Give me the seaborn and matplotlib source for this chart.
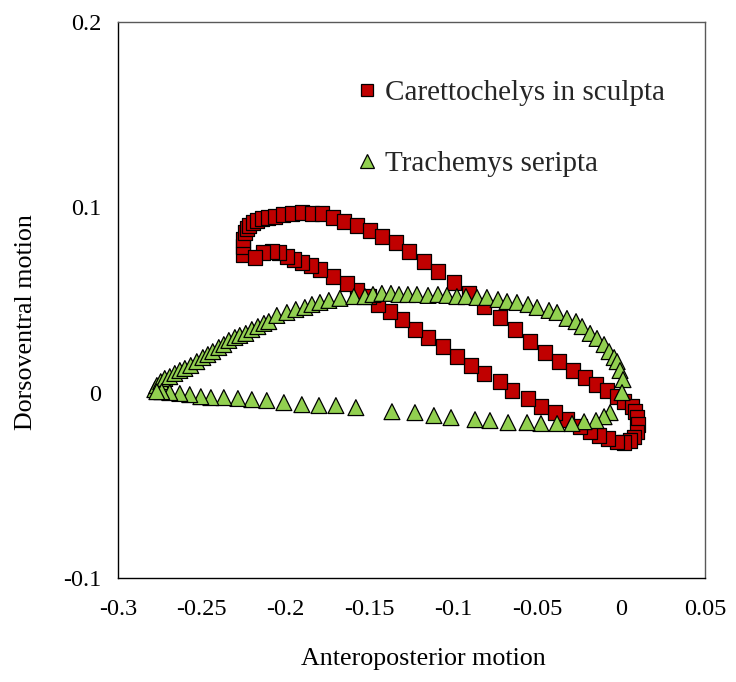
import matplotlib
matplotlib.use("Agg")
import matplotlib.pyplot as plt
import seaborn as sns
import pandas as pd

# Carettochelys in sculpta (red squares)
caretto_x = [-0.2255, -0.2255, -0.2255, -0.2243, -0.2231, -0.2219, -0.2195, -0.2171, -0.2141, -0.2106,
             -0.2064, -0.2016, -0.1962, -0.1903, -0.1843, -0.1784, -0.1718, -0.1652, -0.1575, -0.1497,
             -0.1426, -0.1342, -0.1265, -0.1175, -0.1092, -0.0996, -0.0907, -0.0818, -0.0722, -0.0633,
             -0.0543, -0.0454, -0.0370, -0.0287, -0.0215, -0.0150, -0.0084, -0.0024, 0.0017, 0.0065,
             0.0083, 0.0095, 0.0101, 0.0095, 0.0077, 0.0053, 0.0017, -0.0024, -0.0078, -0.0132,
             -0.0185, -0.0245, -0.0323, -0.0394, -0.0478, -0.0555, -0.0651, -0.0722, -0.0818, -0.0895,
             -0.0979, -0.1062, -0.1151, -0.1229, -0.1307, -0.1378, -0.1450, -0.1503, -0.1575, -0.1634,
             -0.1718, -0.1795, -0.1849, -0.1903, -0.1951, -0.1992, -0.2040, -0.2082, -0.2135, -0.2183]
caretto_y = [0.0745, 0.0788, 0.0826, 0.0864, 0.0886, 0.0902, 0.0918, 0.0929, 0.0940, 0.0945,
             0.0950, 0.0961, 0.0967, 0.0972, 0.0967, 0.0967, 0.0945, 0.0923, 0.0902, 0.0875,
             0.0842, 0.0810, 0.0761, 0.0707, 0.0653, 0.0594, 0.0535, 0.0464, 0.0405, 0.0340,
             0.0275, 0.0216, 0.0167, 0.0119, 0.0081, 0.0043, 0.0011, -0.0022, -0.0049, -0.0076,
             -0.0103, -0.0135, -0.0173, -0.0211, -0.0238, -0.0259, -0.0270, -0.0265, -0.0248, -0.0232,
             -0.0211, -0.0184, -0.0146, -0.0108, -0.0076, -0.0032, 0.0011, 0.0059, 0.0103, 0.0146,
             0.0194, 0.0248, 0.0297, 0.0340, 0.0394, 0.0437, 0.0475, 0.0518, 0.0551, 0.0589,
             0.0626, 0.0664, 0.0686, 0.0702, 0.0718, 0.0734, 0.0756, 0.0761, 0.0756, 0.0729]

# Trachemys seripta (green triangles)
trach_x = [-0.2779, -0.2767, -0.2744, -0.2720, -0.2690, -0.2660, -0.2630, -0.2600, -0.2565, -0.2529,
           -0.2493, -0.2463, -0.2434, -0.2398, -0.2368, -0.2338, -0.2302, -0.2273, -0.2237, -0.2201,
           -0.2165, -0.2129, -0.2100, -0.2052, -0.1992, -0.1939, -0.1885, -0.1843, -0.1795, -0.1742,
           -0.1676, -0.1593, -0.1527, -0.1479, -0.1426, -0.1372, -0.1324, -0.1271, -0.1217, -0.1151,
           -0.1092, -0.1038, -0.0979, -0.0925, -0.0859, -0.0800, -0.0734, -0.0680, -0.0621, -0.0555,
           -0.0501, -0.0430, -0.0382, -0.0323, -0.0269, -0.0233, -0.0185, -0.0144, -0.0102, -0.0072,
           -0.0042, -0.0024, -0.0007, 0.0011, 0.0005, -0.0066, -0.0102, -0.0150, -0.0221, -0.0293,
           -0.0382, -0.0478, -0.0561, -0.0674, -0.0782, -0.0871, -0.1014, -0.1116, -0.1229, -0.1366,
           -0.1581, -0.1700, -0.1801, -0.1903, -0.2010, -0.2112, -0.2201, -0.2284, -0.2368, -0.2445,
           -0.2505, -0.2571, -0.2630, -0.2690, -0.2738, -0.2767]
trach_y = [0.0016, 0.0038, 0.0059, 0.0076, 0.0086, 0.0103, 0.0119, 0.0130, 0.0146, 0.0167,
           0.0189, 0.0205, 0.0221, 0.0243, 0.0259, 0.0281, 0.0297, 0.0308, 0.0319, 0.0340,
           0.0356, 0.0373, 0.0383, 0.0416, 0.0432, 0.0448, 0.0459, 0.0475, 0.0486, 0.0497,
           0.0508, 0.0518, 0.0518, 0.0529, 0.0535, 0.0535, 0.0529, 0.0529, 0.0529, 0.0524,
           0.0529, 0.0524, 0.0518, 0.0518, 0.0513, 0.0513, 0.0502, 0.0491, 0.0486, 0.0475,
           0.0459, 0.0443, 0.0432, 0.0400, 0.0383, 0.0356, 0.0319, 0.0292, 0.0259, 0.0221,
           0.0189, 0.0167, 0.0119, 0.0070, 0.0000, -0.0108, -0.0130, -0.0151, -0.0157, -0.0167,
           -0.0167, -0.0167, -0.0162, -0.0162, -0.0151, -0.0146, -0.0135, -0.0124, -0.0108, -0.0103,
           -0.0081, -0.0070, -0.0070, -0.0065, -0.0054, -0.0043, -0.0038, -0.0032, -0.0027, -0.0027,
           -0.0022, -0.0011, -0.0005, 0.0000, 0.0005, 0.0005]

species = ["Carettochelys in sculpta", "Trachemys seripta"]
x_ticks = [-0.3, -0.25, -0.2, -0.15, -0.1, -0.05, 0.0, 0.05]
x_tick_labels = ["-0.3", "-0.25", "-0.2", "-0.15", "-0.1", "-0.05", "0", "0.05"]
y_ticks = [-0.1, 0.0, 0.1, 0.2]
y_tick_labels = ["-0.1", "0", "0.1", "0.2"]

df = pd.concat([
    pd.DataFrame({"ap": caretto_x, "dv": caretto_y, "species": species[0]}),
    pd.DataFrame({"ap": trach_x, "dv": trach_y, "species": species[1]}),
], ignore_index=True)

sns.set_style("white")
plt.rcParams["font.family"] = ["Liberation Serif", "DejaVu Serif"]
tick_fs = 17.5
label_fs = 18.7
legend_fs = 21

fig = plt.figure(figsize=(7.36, 6.82), dpi=100)
ax = fig.add_axes([0.160, 0.1525, 0.798, 0.8155])

sns.scatterplot(
    data=df, x="ap", y="dv", hue="species", style="species", size="species",
    palette={species[0]: "#C00000", species[1]: "#92D050"},
    markers={species[0]: "s", species[1]: "^"},
    sizes={species[0]: 108, species[1]: 130},
    edgecolor="black", linewidth=0.9, ax=ax,
)

ax.set_xlim(-0.3, 0.05)
ax.set_ylim(-0.1, 0.2)
ax.set_xticks(x_ticks)
ax.set_xticklabels(x_tick_labels)
ax.set_yticks(y_ticks)
ax.set_yticklabels(y_tick_labels)
ax.tick_params(axis="x", direction="in", length=6, width=0.8, labelsize=tick_fs, pad=15, colors="black")
ax.tick_params(axis="y", direction="in", length=6, width=0.8, labelsize=tick_fs, pad=12, colors="black")

for side in ["left", "bottom"]:
    ax.spines[side].set_color("black")
    ax.spines[side].set_linewidth(1.0)
for side in ["top", "right"]:
    ax.spines[side].set_color("#595959")
    ax.spines[side].set_linewidth(1.0)

ax.set_xlabel("Anteroposterior motion", fontsize=label_fs, color="black")
ax.set_ylabel("Dorsoventral motion", fontsize=label_fs, color="black")
ax.xaxis.set_label_coords(0.52, -0.125)
ax.yaxis.set_label_coords(-0.138, 0.46)

sns.move_legend(
    ax, "upper left", bbox_to_anchor=(0.410, 0.8966), frameon=False, title=None,
    fontsize=legend_fs, handlelength=0.6, handletextpad=0.3, labelspacing=1.54,
    borderpad=0, borderaxespad=0, markerscale=0.85,
)

fig.savefig("out.png", dpi=100, facecolor="white")
